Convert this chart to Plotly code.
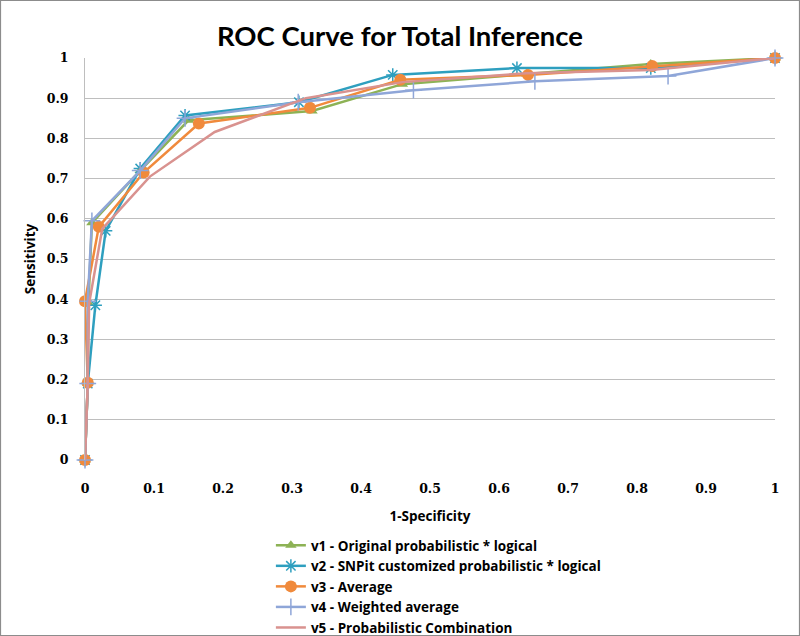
import plotly.graph_objects as go

names = ["v1 - Original probabilistic * logical",
         "v2 - SNPit customized probabilistic * logical",
         "v3 - Average",
         "v4 - Weighted average",
         "v5 - Probabilistic Combination"]

v1_x = [0, 0.004, 0.005, 0.010, 0.080, 0.150, 0.329, 0.460, 0.640, 0.820, 1.0]
v1_y = [0, 0.190, 0.390, 0.590, 0.720, 0.845, 0.868, 0.935, 0.960, 0.985, 1.0]

v2_x = [0, 0.004, 0.015, 0.030, 0.080, 0.145, 0.310, 0.446, 0.626, 0.820, 1.0]
v2_y = [0, 0.190, 0.385, 0.570, 0.725, 0.857, 0.890, 0.958, 0.975, 0.975, 1.0]

v3_x = [0, 0.004, 0.000, 0.020, 0.085, 0.165, 0.326, 0.457, 0.642, 0.822, 1.0]
v3_y = [0, 0.192, 0.395, 0.580, 0.715, 0.837, 0.876, 0.946, 0.958, 0.980, 1.0]

v4_x = [0, 0.004, 0.004, 0.010, 0.080, 0.145, 0.309, 0.476, 0.652, 0.845, 1.0]
v4_y = [0, 0.190, 0.395, 0.595, 0.720, 0.850, 0.890, 0.920, 0.942, 0.955, 1.0]

v5_x = [0, 0.004, 0.006, 0.025, 0.094, 0.188, 0.320, 0.460, 0.640, 0.820, 1.0]
v5_y = [0, 0.192, 0.390, 0.575, 0.705, 0.816, 0.900, 0.940, 0.962, 0.970, 1.0]

x_ticks = [0, 0.1, 0.2, 0.3, 0.4, 0.5, 0.6, 0.7, 0.8, 0.9, 1]
x_tick_text = ["0", "0.1", "0.2", "0.3", "0.4", "0.5", "0.6", "0.7", "0.8", "0.9", "1"]
y_ticks = [0, 0.1, 0.2, 0.3, 0.4, 0.5, 0.6, 0.7, 0.8, 0.9, 1]
y_tick_text = ["0", "0.1", "0.2", "0.3", "0.4", "0.5", "0.6", "0.7", "0.8", "0.9", "1"]

colors = ["#8DB255", "#2E9FBF", "#F08A3C", "#8FA6D8", "#D9928F"]
symbols = ["triangle-up", "asterisk-open", "circle", "cross-thin-open", None]
sizes = [10, 11, 12, 12, 0]

series = [(v1_x, v1_y), (v2_x, v2_y), (v3_x, v3_y), (v4_x, v4_y), (v5_x, v5_y)]

FONT = "Lato, Carlito, Calibri, sans-serif"
TEXTFONT = "Open Sans, sans-serif"
TICKFONT = dict(family="DejaVu Serif, serif", size=12.5, weight="bold", color="black")

fig = go.Figure()
for i, (xs, ys) in enumerate(series):
    if symbols[i] is None:
        fig.add_trace(go.Scatter(x=xs, y=ys, mode="lines", name=names[i], cliponaxis=False,
                                 line=dict(color=colors[i], width=2.5)))
    else:
        mk = dict(symbol=symbols[i], size=sizes[i], color=colors[i])
        if symbols[i].endswith("open"):
            mk["line"] = dict(color=colors[i], width=1.5)
        fig.add_trace(go.Scatter(x=xs, y=ys, mode="lines+markers", name=names[i], cliponaxis=False,
                                 line=dict(color=colors[i], width=2.5), marker=mk))

fig.update_layout(
    width=800, height=636,
    margin=dict(l=85, r=25, t=58, b=176),
    paper_bgcolor="white", plot_bgcolor="white",
    font=dict(family=FONT, size=13, color="#000000"),
    title=dict(text="<b>ROC Curve for Total Inference</b>", x=0.5, xanchor="center",
               y=0.943, yanchor="middle", font=dict(family=FONT, size=27.5, color="black")),
    xaxis=dict(range=[0, 1], tickvals=x_ticks, ticktext=x_tick_text, showgrid=False,
               zeroline=False, showline=False, automargin=False,
               ticks="outside", ticklen=17, tickcolor="rgba(0,0,0,0)",
               tickfont=TICKFONT,
               title=dict(text="<b>1-Specificity</b>",
                          font=dict(family=TEXTFONT, size=13.5), standoff=16)),
    yaxis=dict(range=[0, 1], tickvals=y_ticks, ticktext=y_tick_text, showgrid=True,
               gridcolor="#BEBEBE", gridwidth=1, zeroline=False, showline=True,
               linecolor="#BEBEBE", linewidth=1, automargin=False,
               ticks="outside", ticklen=13, tickcolor="rgba(0,0,0,0)",
               tickfont=TICKFONT,
               title=dict(text="<b>Sensitivity</b>",
                          font=dict(family=TEXTFONT, size=13.5), standoff=8)),
    legend=dict(x=0.2694, xanchor="left", xref="paper", y=1 - 530/636, yanchor="top",
                yref="container",
                font=dict(family=TEXTFONT, size=13.5, weight="bold"), bgcolor="rgba(0,0,0,0)",
                tracegroupgap=0, itemwidth=30),
    showlegend=True,
)

fig.add_shape(type="rect", xref="paper", yref="paper",
              x0=-84.5/690, x1=1 + 24.5/690, y0=-175.5/402, y1=1 + 57.5/402,
              line=dict(color="#8C8C8C", width=1.2), fillcolor="rgba(0,0,0,0)", layer="below")

fig.write_html("out.html", config={"displayModeBar": False},
               post_script="document.body.style.margin='0px';")
